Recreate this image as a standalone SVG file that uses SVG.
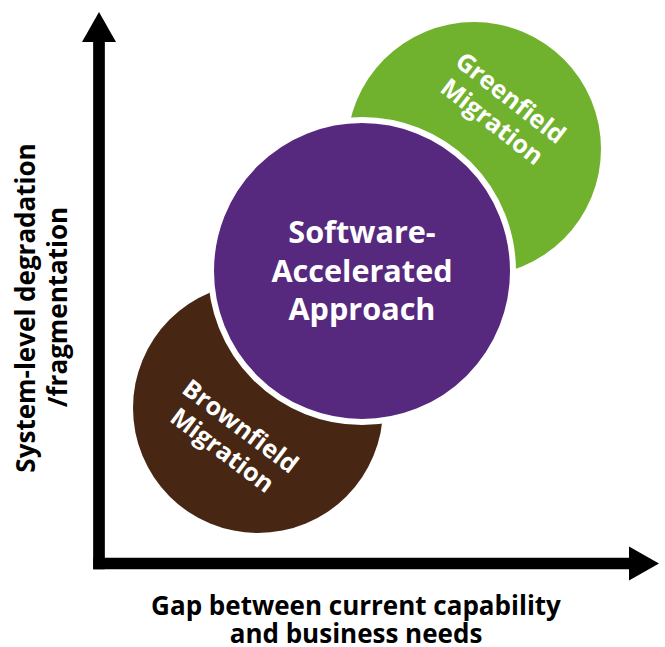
<svg xmlns="http://www.w3.org/2000/svg" width="665" height="647" viewBox="0 0 665 647">
  <style>
    .lbl { font-family: "Open Sans", "Liberation Sans", sans-serif; font-weight: bold; fill: #ffffff; text-anchor: middle; }
    .axis-lbl { font-family: "Open Sans", "Liberation Sans", sans-serif; font-weight: bold; fill: #000000; text-anchor: middle; font-size: 26px; }
    .axis { stroke: #000000; stroke-width: 11.7; fill: none; }
  </style>
  <defs>
    <marker id="head" markerUnits="userSpaceOnUse" markerWidth="31" markerHeight="35" refX="0" refY="17" orient="auto" viewBox="0 0 31 34">
      <path d="M0,0 L30,17 L0,34 Z" fill="#000000"/>
    </marker>
  </defs>
  <rect width="665" height="647" fill="#ffffff"/>

  <g id="connectors">
    <line class="axis" x1="99" y1="569.3" x2="99" y2="42" marker-end="url(#head)"/>
    <line class="axis" x1="93.3" y1="563.5" x2="629" y2="563.5" marker-end="url(#head)"/>
  </g>

  <g id="greenfield">
    <circle cx="474" cy="149" r="127" fill="#70b22d"/>
    <g transform="translate(501,110.3) rotate(38)">
      <text class="lbl" font-size="25" x="0" y="-7">Greenfield</text>
      <text class="lbl" font-size="25" x="0" y="23">Migration</text>
    </g>
  </g>

  <g id="brownfield">
    <circle cx="258" cy="408" r="125" fill="#472714"/>
    <g transform="translate(231,438.8) rotate(37)">
      <text class="lbl" font-size="25" x="0" y="-7">Brownfield</text>
      <text class="lbl" font-size="25" x="0" y="23">Migration</text>
    </g>
  </g>

  <g id="software-accelerated">
    <circle cx="362" cy="271" r="151" fill="#56297f" stroke="#ffffff" stroke-width="6"/>
    <text class="lbl" font-size="30.6" x="362" y="243">Software-</text>
    <text class="lbl" font-size="30.6" x="362" y="281.7">Accelerated</text>
    <text class="lbl" font-size="30.6" x="362" y="320">Approach</text>
  </g>

  <g id="y-axis-label">
    <text class="axis-lbl" transform="translate(35,308) rotate(-90)">System-level degradation</text>
    <text class="axis-lbl" transform="translate(67,307) rotate(-90)">/fragmentation</text>
  </g>

  <g id="x-axis-label">
    <text class="axis-lbl" x="356" y="615">Gap between current capability</text>
    <text class="axis-lbl" x="356" y="643">and business needs</text>
  </g>
</svg>
